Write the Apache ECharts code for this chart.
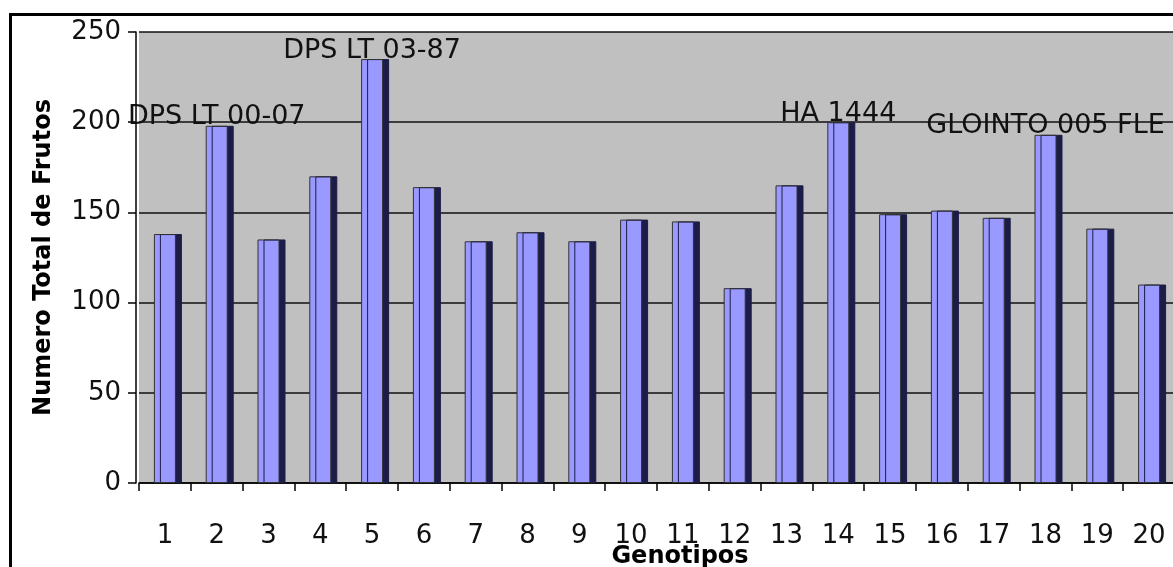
<!DOCTYPE html>
<html>
<head>
<meta charset="utf-8">
<script src="https://cdn.jsdelivr.net/npm/echarts@6/dist/echarts.min.js"></script>
<style>
  html, body { margin: 0; padding: 0; background: #fff; }
  #main { width: 1173px; height: 567px; }
</style>
</head>
<body>
<div id="main"></div>
<script>
  // genotipos 1..20
  var genotipos = ['1','2','3','4','5','6','7','8','9','10','11','12','13','14','15','16','17','18','19','20'];
  // numero total de frutos
  var frutos = [138, 198, 135, 170, 235, 164, 134, 139, 134, 146, 145, 108, 165, 200, 149, 151, 147, 193, 141, 110];
  // rotulos em cima de algumas barras
  var rotulos = ['', 'DPS LT 00-07', '', '', 'DPS LT 03-87', '', '', '', '', '', '', '', '', 'HA 1444', '', '', '', 'GLOINTO 005 FLE', '', ''];
  var yTicks = [0, 50, 100, 150, 200, 250];

  var chart = echarts.init(document.getElementById('main'));
  chart.setOption({
    animation: false,
    textStyle: { fontFamily: 'DejaVu Sans' },
    graphic: [{
      type: 'rect',
      left: 8, top: 12,
      shape: { width: 1200, height: 600 },
      style: { fill: 'none', stroke: '#000', lineWidth: 3 },
      z: 100
    }],
    grid: {
      left: 139, right: -2, top: 32, bottom: 84,
      outerBoundsMode: 'none',
      containLabel: false,
      show: true,
      backgroundColor: '#c0c0c0',
      borderWidth: 0
    },
    xAxis: {
      type: 'category',
      data: genotipos,
      name: 'Genotipos',
      nameLocation: 'middle',
      nameGap: 62,
      nameMoveOverlap: false,
      nameTextStyle: {
        fontFamily: 'DejaVu Sans', fontWeight: 'bold', fontSize: 24, color: '#000',
        padding: [0, 0, 0, 46]
      },
      axisLine: { lineStyle: { color: '#000', width: 1.5 } },
      axisTick: { show: true, length: 8, lineStyle: { color: '#000', width: 1.5 } },
      axisLabel: { fontSize: 26, color: '#111', margin: 40 }
    },
    yAxis: {
      type: 'value',
      min: yTicks[0],
      max: yTicks[yTicks.length - 1],
      interval: 50,
      offset: 3,
      name: 'Numero Total de Frutos',
      nameLocation: 'middle',
      nameRotate: 90,
      nameGap: 80,
      nameMoveOverlap: false,
      nameTextStyle: { fontFamily: 'DejaVu Sans', fontWeight: 'bold', fontSize: 24, color: '#000' },
      axisLine: { show: true, lineStyle: { color: '#000', width: 1.5 } },
      axisTick: { show: true, length: 8, lineStyle: { color: '#000', width: 1.5 } },
      axisLabel: { fontSize: 26, color: '#111', margin: 15 },
      splitLine: { show: true, lineStyle: { color: '#111', width: 1.5 } }
    },
    series: [{
      type: 'bar',
      data: frutos,
      barWidth: 22,
      itemStyle: {
        color: '#9999ff',
        borderColor: '#333',
        borderWidth: 1,
        shadowColor: '#1c1c48',
        shadowOffsetX: 6,
        shadowOffsetY: 0,
        shadowBlur: 0
      },
      label: {
        show: true,
        position: 'top',
        distance: -5,
        fontFamily: 'DejaVu Sans',
        fontSize: 27,
        color: '#111',
        formatter: function (p) { return rotulos[p.dataIndex]; }
      }
    }]
  });
</script>
</body>
</html>
